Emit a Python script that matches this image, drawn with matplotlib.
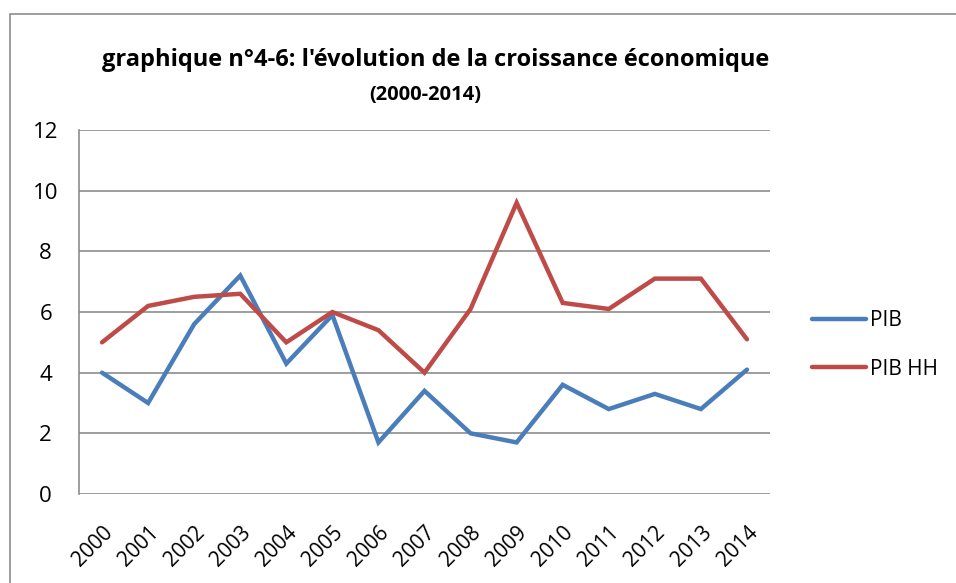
import matplotlib.pyplot as plt
from matplotlib.patches import Rectangle

# Données du graphique
annees = ['2000', '2001', '2002', '2003', '2004', '2005', '2006', '2007',
          '2008', '2009', '2010', '2011', '2012', '2013', '2014']
pib = [4.0, 3.0, 5.6, 7.2, 4.3, 5.9, 1.7, 3.4, 2.0, 1.7, 3.6, 2.8, 3.3, 2.8, 4.1]
pib_hh = [5.0, 6.2, 6.5, 6.6, 5.0, 6.0, 5.4, 4.0, 6.1, 9.6, 6.3, 6.1, 7.1, 7.1, 5.1]
yticks = [0, 2, 4, 6, 8, 10, 12]

plt.rcParams['font.family'] = ['Open Sans', 'DejaVu Sans']

W, H = 956, 583
fig = plt.figure(figsize=(W / 100, H / 100), dpi=100)
ax = fig.add_axes([79 / W, 1 - 494 / H, (770 - 79) / W, (494 - 130) / H])

x = range(len(annees))
ax.plot(x, pib, color='#4A7EBB', lw=3.2, label='PIB', solid_capstyle='round', solid_joinstyle='miter')
ax.plot(x, pib_hh, color='#BE4B48', lw=3.2, label='PIB HH', solid_capstyle='round', solid_joinstyle='miter')

ax.set_xlim(-0.5, len(annees) - 0.5)
ax.set_ylim(0, 12)
ax.set_yticks(yticks)
ax.set_yticklabels([str(v) for v in yticks], fontsize=16)
ax.set_xticks(list(x))
ax.set_xticklabels(annees, rotation=45, ha='right', va='top', rotation_mode='anchor', fontsize=15)
ax.tick_params(axis='y', length=0, pad=24)
ax.tick_params(axis='x', length=0, pad=20)
for lab in ax.get_yticklabels():
    lab.set_horizontalalignment('center')
ax.grid(axis='y', color='#8c8c8c', lw=1.2)
ax.set_axisbelow(True)
for s in ['top', 'right', 'bottom']:
    ax.spines[s].set_visible(False)
ax.spines['left'].set_color('#8c8c8c')
ax.spines['left'].set_linewidth(1.2)

# titre
fig.text(436 / W, 1 - 60 / H, "graphique n°4-6: l'évolution de la croissance économique",
         ha='center', va='center', fontsize=17, fontweight='bold')
fig.text(425 / W, 1 - 95 / H, "(2000-2014)", ha='center', va='center', fontsize=14.5, fontweight='bold')

# légende
fig.legend(loc='center left', bbox_to_anchor=(793 / W, 1 - 345 / H), frameon=False,
           fontsize=15, handlelength=2.6, handletextpad=0.2, labelspacing=1.3)

# cadre extérieur
fig.patches.append(Rectangle((10 / W, -0.1), 1.2, 1 - 14 / H + 0.1, transform=fig.transFigure,
                             fill=False, edgecolor='#8c8c8c', lw=1.2))

fig.savefig('out.png', dpi=100)
